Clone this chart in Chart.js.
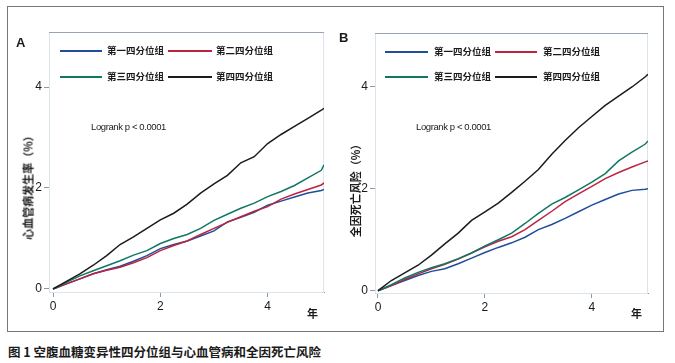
<!DOCTYPE html>
<html>
<head>
<meta charset="utf-8">
<script src="https://cdn.jsdelivr.net/npm/chart.js@4.4.1/dist/chart.umd.min.js"></script>
<style>
  body{margin:0;background:#fff;}
  #wrap{position:relative;width:675px;height:363px;overflow:hidden;background:#fff;font-family:"Noto Sans CJK SC","Noto Sans",sans-serif;color:#1a1a1a;}
  #frame{position:absolute;left:7px;top:6px;width:655px;height:324px;border:1px solid #777;}
  canvas{position:absolute;top:0;}
  .t{position:absolute;white-space:nowrap;line-height:1;}
  .lab{font-weight:bold;font-size:9.5px;}
  .key{position:absolute;height:2px;}
  .ytitle{position:absolute;font-weight:bold;font-size:11px;white-space:nowrap;transform:translate(-50%,-50%) rotate(-90deg);line-height:1;}
  .logrank{font-family:"Liberation Sans",Arial,sans-serif;font-size:9.5px;letter-spacing:-0.4px;}
</style>
</head>
<body>
<div id="wrap">
  <div id="frame"></div>
  <canvas id="cA" width="337" height="330" style="left:0"></canvas>
  <canvas id="cB" width="340" height="330" style="left:330px"></canvas>
</div>
<script>
// follow-up time, years
var years = [0, 0.25, 0.5, 0.75, 1, 1.25, 1.5, 1.75, 2, 2.25, 2.5, 2.75, 3, 3.25, 3.5, 3.75, 4, 4.25, 4.5, 4.75, 5, 5.05];

// A: 心血管病发生率 (%)
var cvdQ1 = [0, 0.1, 0.2, 0.3, 0.38, 0.45, 0.55, 0.66, 0.8, 0.88, 0.95, 1.05, 1.15, 1.33, 1.42, 1.52, 1.66, 1.74, 1.82, 1.9, 1.95, 1.97];
var cvdQ2 = [0, 0.1, 0.2, 0.3, 0.37, 0.43, 0.52, 0.62, 0.76, 0.86, 0.95, 1.08, 1.2, 1.32, 1.43, 1.54, 1.63, 1.78, 1.88, 1.97, 2.06, 2.1];
var cvdQ3 = [0, 0.13, 0.26, 0.36, 0.46, 0.56, 0.67, 0.76, 0.9, 1.0, 1.08, 1.2, 1.36, 1.48, 1.6, 1.7, 1.83, 1.93, 2.05, 2.2, 2.35, 2.46];
var cvdQ4 = [0, 0.15, 0.3, 0.47, 0.66, 0.88, 1.03, 1.2, 1.37, 1.5, 1.68, 1.9, 2.08, 2.25, 2.5, 2.62, 2.88, 3.06, 3.22, 3.38, 3.54, 3.58];

// B: 全因死亡风险 (%)
var deathQ1 = [0, 0.1, 0.2, 0.3, 0.38, 0.43, 0.53, 0.64, 0.75, 0.85, 0.94, 1.05, 1.2, 1.3, 1.42, 1.55, 1.68, 1.79, 1.9, 1.97, 1.99, 2.0];
var deathQ2 = [0, 0.1, 0.22, 0.33, 0.43, 0.52, 0.62, 0.74, 0.86, 0.97, 1.06, 1.2, 1.38, 1.56, 1.75, 1.9, 2.05, 2.2, 2.32, 2.43, 2.53, 2.55];
var deathQ3 = [0, 0.12, 0.25, 0.36, 0.45, 0.53, 0.63, 0.74, 0.88, 1.0, 1.13, 1.32, 1.52, 1.7, 1.83, 1.98, 2.13, 2.3, 2.55, 2.72, 2.88, 2.94];
var deathQ4 = [0, 0.2, 0.35, 0.5, 0.7, 0.92, 1.13, 1.38, 1.55, 1.72, 1.93, 2.15, 2.38, 2.68, 2.95, 3.2, 3.42, 3.64, 3.82, 4.0, 4.2, 4.25];

var groupNames = ['第一四分位组', '第二四分位组', '第三四分位组', '第四四分位组'];
var groupColors = ['#1f4e9c', '#bb2440', '#117764', '#1b1b1b'];
var yTicks = [0, 2, 4];
var xTicks = [0, 2, 4];

var wrap = document.getElementById('wrap');

//加文字
var addText = function(txt, cls, x, y, css){
  var d = document.createElement('div');
  d.className = cls;
  d.textContent = txt;
  d.style.left = x + 'px';
  d.style.top = y + 'px';
  if(css) d.style.cssText += css;
  wrap.appendChild(d);
  return d;
}

//图例
var addLegend = function(rows){
  rows.forEach(function(r){
    var k = document.createElement('div');
    k.className = 'key';
    k.style.left = r.x1 + 'px';
    k.style.width = (r.x2 - r.x1) + 'px';
    k.style.top = (r.y - 1) + 'px';
    k.style.background = groupColors[r.i];
    wrap.appendChild(k);
    addText(groupNames[r.i], 't lab', r.tx, r.y - 5);
  })
}

var plotFrame = {
  id: 'plotFrame',
  beforeDatasetsDraw: function(chart){
    var a = chart.chartArea, ctx = chart.ctx;
    ctx.save();
    ctx.lineWidth = 1;
    ctx.strokeStyle = '#dde5ec';
    ctx.strokeRect(a.left + 0.5, a.top + 0.5, a.right - a.left - 1, a.bottom - a.top);
    ctx.strokeStyle = '#96a4b1';
    ctx.beginPath();
    ctx.moveTo(a.left, a.top + 0.5);
    ctx.lineTo(a.right, a.top + 0.5);
    ctx.stroke();
    ctx.restore();
  }
}

var makeChart = function(id, series, box){
  var datasets = series.map(function(s, i){
    return {
      data: years.map(function(t, j){ return { x: t, y: s[j] }; }),
      borderColor: groupColors[i],
      borderWidth: 1.5,
      pointRadius: 0,
      tension: 0,
      fill: false
    };
  }).reverse();

  var axisColor = '#8c9aa7';
  var tickFont = { family: '"Liberation Sans", Arial, sans-serif', size: 12 };

  return new Chart(document.getElementById(id), {
    type: 'line',
    data: { datasets: datasets },
    options: {
      responsive: false,
      animation: false,
      layout: { padding: { top: box.top, right: box.right, left: 0, bottom: 0 } },
      plugins: { legend: { display: false }, tooltip: { enabled: false } },
      scales: {
        x: {
          type: 'linear', min: box.xmin, max: box.xmax,
          afterBuildTicks: function(s){ s.ticks = xTicks.map(function(v){ return { value: v }; }); },
          afterFit: function(s){ s.height = box.xh; },
          grid: { drawOnChartArea: false, color: axisColor, tickLength: 5 },
          border: { color: axisColor, width: 1 },
          ticks: { color: '#1a1a1a', font: tickFont, padding: 2, maxRotation: 0 }
        },
        y: {
          type: 'linear', min: box.ymin, max: box.ymax,
          afterBuildTicks: function(s){ s.ticks = yTicks.map(function(v){ return { value: v }; }); },
          afterFit: function(s){ s.width = box.yw; },
          grid: { drawOnChartArea: false, color: axisColor, tickLength: 5 },
          border: { color: axisColor, width: 1 },
          ticks: { color: '#1a1a1a', font: tickFont, padding: 2 }
        }
      }
    },
    plugins: [plotFrame]
  });
}

makeChart('cA', [cvdQ1, cvdQ2, cvdQ3, cvdQ4],
  { top: 32, right: 13, yw: 49, xh: 38, xmin: -0.075, xmax: 5.05, ymin: -0.06, ymax: 5.09 });
makeChart('cB', [deathQ1, deathQ2, deathQ3, deathQ4],
  { top: 33, right: 22, yw: 45, xh: 37, xmin: -0.056, xmax: 5.05, ymin: -0.045, ymax: 5.06 });

// 面板标签
addText('A', 't', 16, 36, 'font-family:"Liberation Sans",Arial,sans-serif;font-weight:bold;font-size:13px;');
addText('B', 't', 339, 31, 'font-family:"Liberation Sans",Arial,sans-serif;font-weight:bold;font-size:13px;');

addLegend([
  { i: 0, x1: 60, x2: 102, tx: 107, y: 51 },
  { i: 1, x1: 168, x2: 212, tx: 216, y: 51 },
  { i: 2, x1: 60, x2: 102, tx: 107, y: 77 },
  { i: 3, x1: 168, x2: 212, tx: 216, y: 77 },
  { i: 0, x1: 385, x2: 428, tx: 434, y: 52 },
  { i: 1, x1: 495, x2: 537, tx: 543, y: 52 },
  { i: 2, x1: 385, x2: 428, tx: 434, y: 77 },
  { i: 3, x1: 495, x2: 537, tx: 543, y: 77 }
]);

addText('Logrank p < 0.0001', 't logrank', 91, 122);
addText('Logrank p < 0.0001', 't logrank', 416, 122);

addText('心血管病发生率（%）', 'ytitle', 28, 185);
addText('全因死亡风险（%）', 'ytitle', 355, 188);

addText('年', 't lab', 307, 308, 'font-size:11px;');
addText('年', 't lab', 631, 308, 'font-size:11px;');

addText('图 1 空腹血糖变异性四分位组与心血管病和全因死亡风险', 't', 8, 346, 'font-weight:bold;font-size:12.5px;');
</script>
</body>
</html>
